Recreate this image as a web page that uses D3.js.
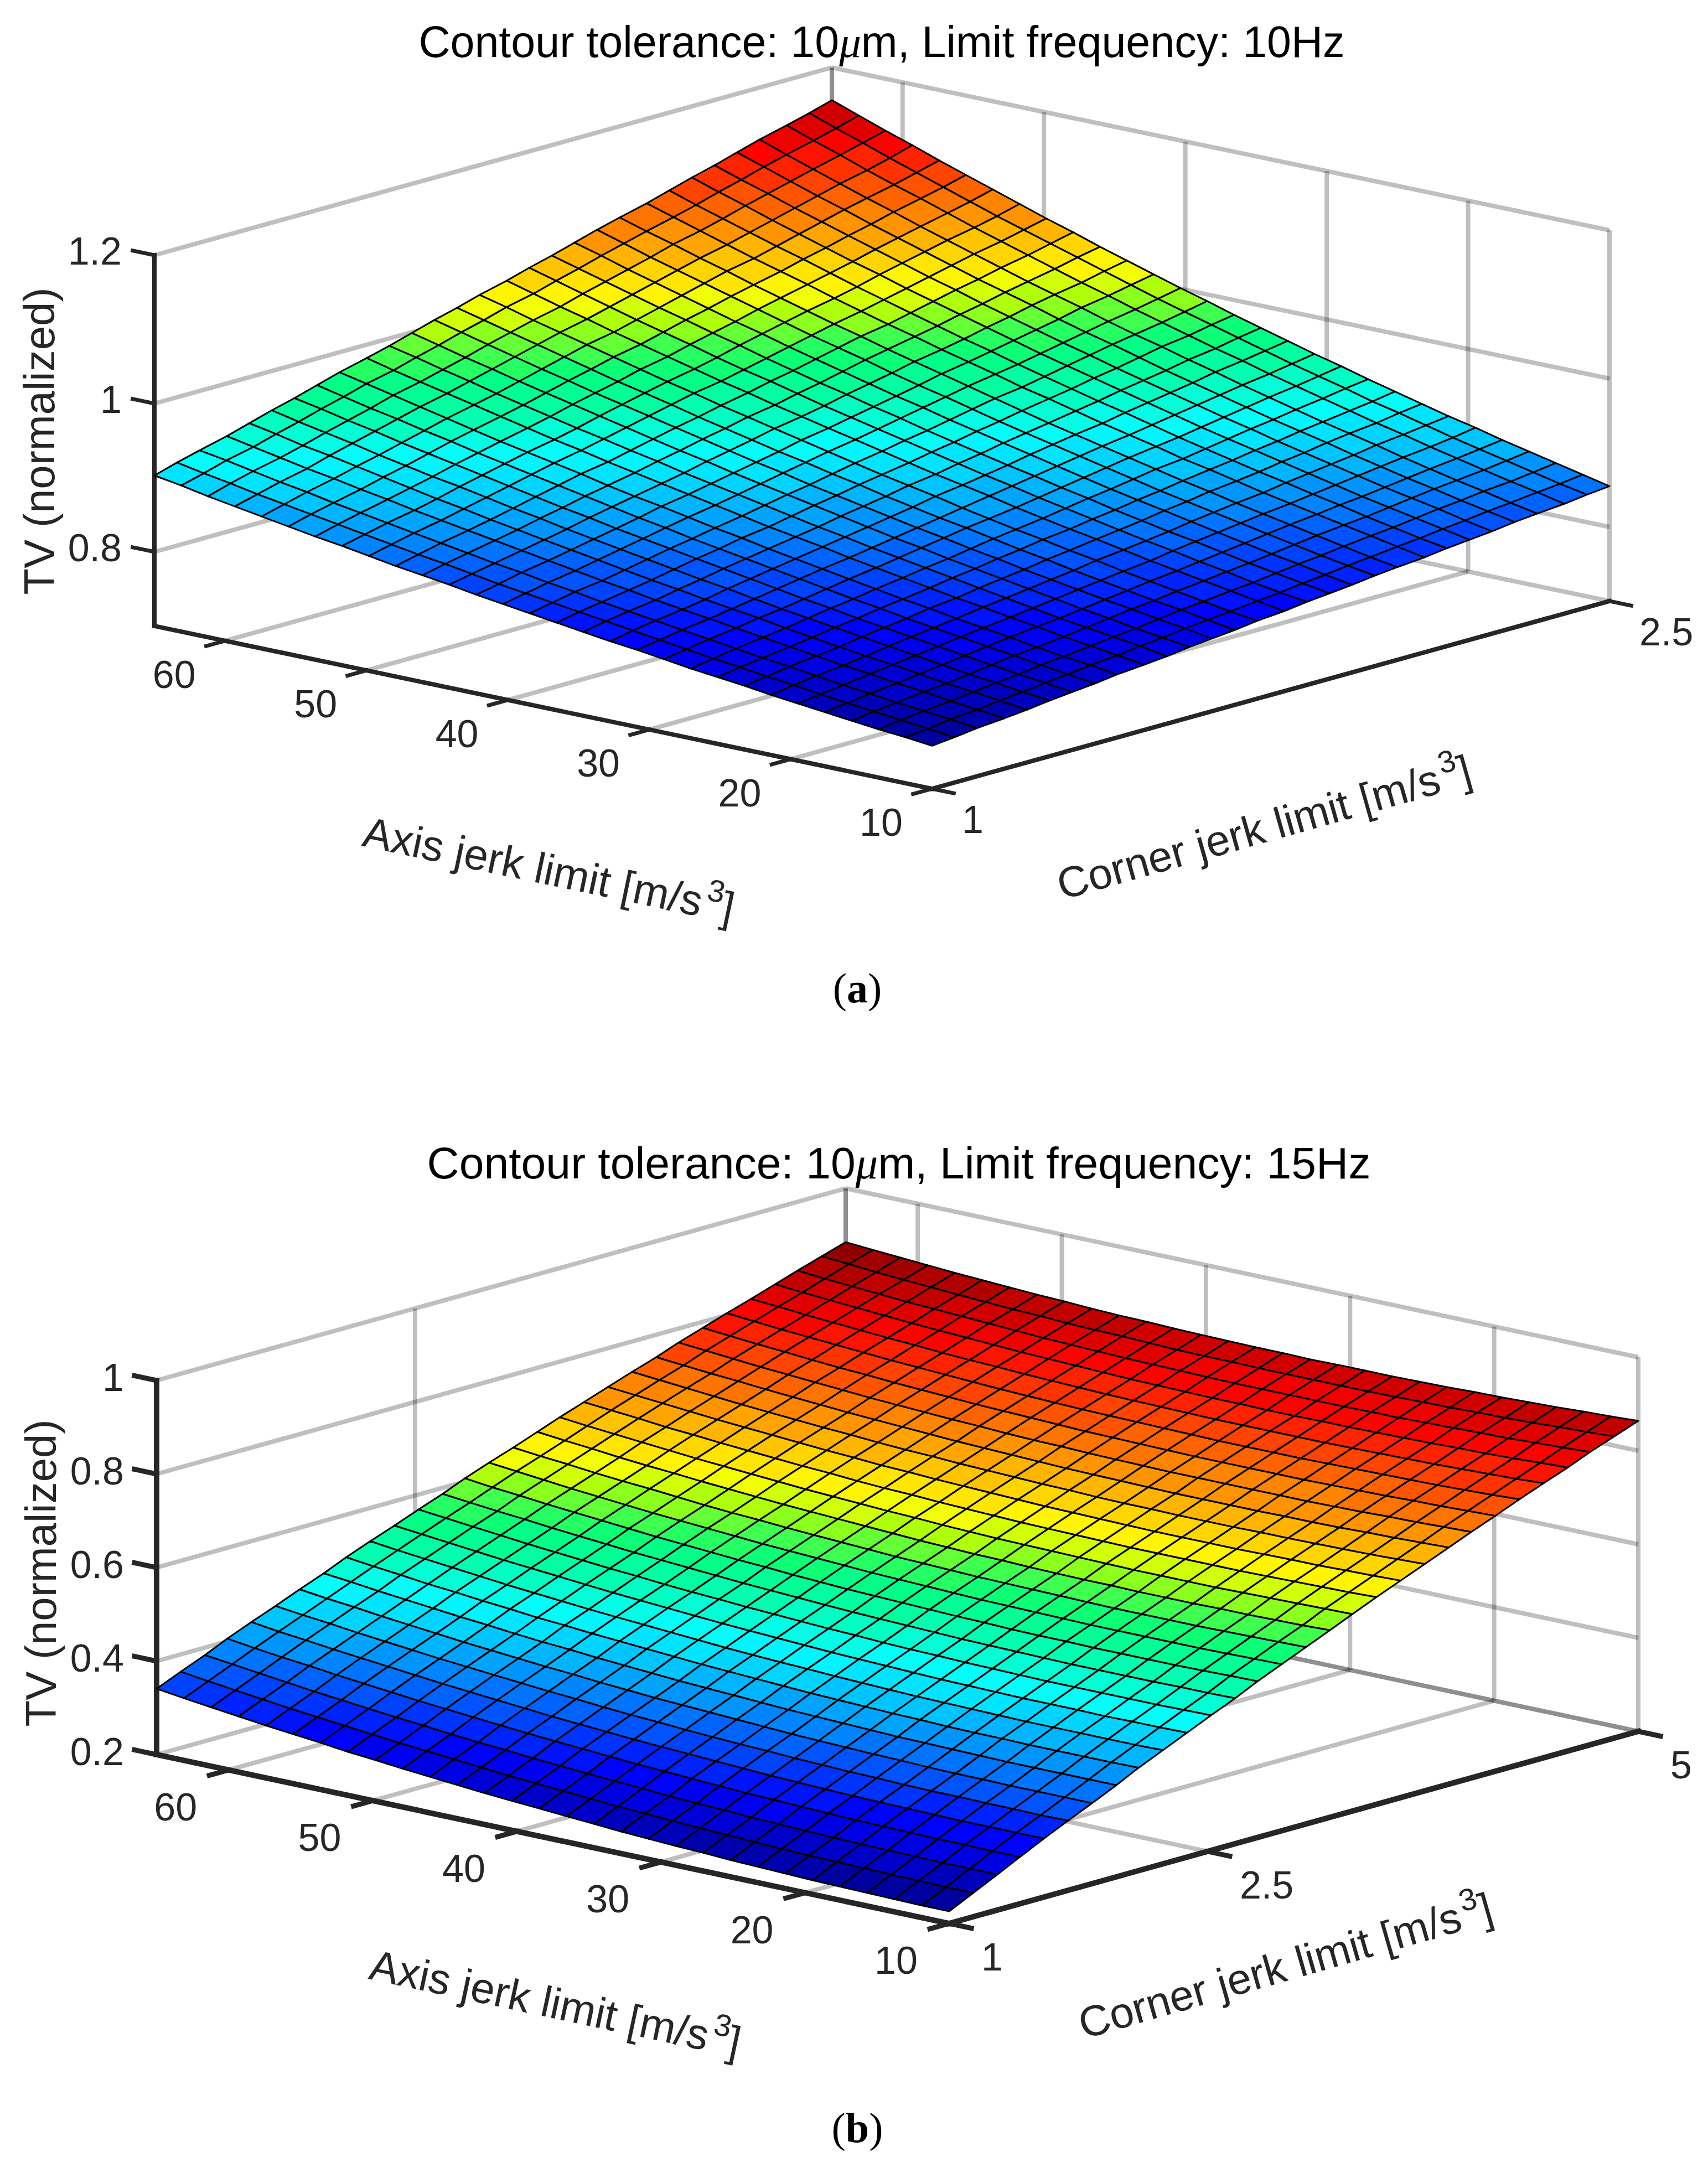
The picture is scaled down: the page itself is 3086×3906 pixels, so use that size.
<!DOCTYPE html>
<html>
<head>
<meta charset="utf-8">
<script src="https://cdn.jsdelivr.net/npm/d3@7"></script>
<style>
  body { margin: 0; background: #fff; }
  text { font-family: "Liberation Sans", Arial, sans-serif; }
</style>
</head>
<body>
<div id="chart"></div>
<script>
// tick labels
const axisTicks = [10, 20, 30, 40, 50, 60];
const cornerTicksA = [1, 2.5];
const cornerTicksB = [1, 2.5, 5];
const zTicksA = [0.8, 1, 1.2];
const zTicksB = [0.2, 0.4, 0.6, 0.8, 1];

// mesh nodes along the two floor axes
const axisNodes = [10, 11.9, 13.79, 15.69, 17.59, 19.48, 21.38, 23.28, 25.17, 27.07, 28.97, 30.86, 32.76, 34.66, 36.55, 38.45, 40.34, 42.24, 44.14, 46.03, 47.93, 49.83, 51.72, 53.62, 55.52, 57.41, 59.31, 61.21, 63.1, 65];
const cornerNodesA = [1, 1.05, 1.1, 1.16, 1.21, 1.26, 1.31, 1.36, 1.41, 1.47, 1.52, 1.57, 1.62, 1.67, 1.72, 1.78, 1.83, 1.88, 1.93, 1.98, 2.03, 2.09, 2.14, 2.19, 2.24, 2.29, 2.34, 2.4, 2.45, 2.5];
const cornerNodesB = [1, 1.14, 1.28, 1.41, 1.55, 1.69, 1.83, 1.97, 2.1, 2.24, 2.38, 2.52, 2.66, 2.79, 2.93, 3.07, 3.21, 3.34, 3.48, 3.62, 3.76, 3.9, 4.03, 4.17, 4.31, 4.45, 4.59, 4.72, 4.86, 5];

// TV values, one row per axis jerk node, one column per corner jerk node
const surfaceA = [
[0.758,0.761,0.765,0.768,0.771,0.775,0.778,0.781,0.785,0.788,0.791,0.795,0.798,0.801,0.805,0.808,0.812,0.815,0.818,0.822,0.825,0.828,0.832,0.835,0.838,0.842,0.845,0.848,0.852,0.855],
[0.762,0.765,0.769,0.772,0.776,0.779,0.783,0.786,0.790,0.793,0.797,0.800,0.804,0.807,0.810,0.814,0.817,0.821,0.824,0.828,0.831,0.835,0.838,0.842,0.845,0.849,0.852,0.856,0.859,0.863],
[0.765,0.769,0.773,0.776,0.780,0.784,0.787,0.791,0.794,0.798,0.802,0.805,0.809,0.813,0.816,0.820,0.823,0.827,0.831,0.834,0.838,0.842,0.845,0.849,0.853,0.856,0.860,0.863,0.867,0.871],
[0.769,0.773,0.777,0.781,0.784,0.788,0.792,0.796,0.799,0.803,0.807,0.811,0.815,0.818,0.822,0.826,0.830,0.833,0.837,0.841,0.845,0.849,0.852,0.856,0.860,0.864,0.867,0.871,0.875,0.879],
[0.773,0.777,0.781,0.785,0.789,0.793,0.797,0.801,0.805,0.809,0.812,0.816,0.820,0.824,0.828,0.832,0.836,0.840,0.844,0.848,0.852,0.856,0.860,0.863,0.867,0.871,0.875,0.879,0.883,0.887],
[0.777,0.781,0.785,0.790,0.794,0.798,0.802,0.806,0.810,0.814,0.818,0.822,0.826,0.830,0.834,0.838,0.843,0.847,0.851,0.855,0.859,0.863,0.867,0.871,0.875,0.879,0.883,0.887,0.891,0.896],
[0.781,0.786,0.790,0.794,0.798,0.803,0.807,0.811,0.815,0.820,0.824,0.828,0.832,0.836,0.841,0.845,0.849,0.853,0.858,0.862,0.866,0.870,0.875,0.879,0.883,0.887,0.892,0.896,0.900,0.904],
[0.786,0.790,0.795,0.799,0.803,0.808,0.812,0.816,0.821,0.825,0.830,0.834,0.838,0.843,0.847,0.852,0.856,0.860,0.865,0.869,0.874,0.878,0.882,0.887,0.891,0.896,0.900,0.904,0.909,0.913],
[0.790,0.795,0.799,0.804,0.808,0.813,0.817,0.822,0.826,0.831,0.836,0.840,0.845,0.849,0.854,0.858,0.863,0.867,0.872,0.876,0.881,0.886,0.890,0.895,0.899,0.904,0.908,0.913,0.917,0.922],
[0.794,0.799,0.804,0.809,0.813,0.818,0.823,0.827,0.832,0.837,0.842,0.846,0.851,0.856,0.860,0.865,0.870,0.875,0.879,0.884,0.889,0.893,0.898,0.903,0.908,0.912,0.917,0.922,0.927,0.931],
[0.799,0.804,0.809,0.814,0.819,0.823,0.828,0.833,0.838,0.843,0.848,0.853,0.858,0.863,0.867,0.872,0.877,0.882,0.887,0.892,0.897,0.902,0.906,0.911,0.916,0.921,0.926,0.931,0.936,0.941],
[0.804,0.809,0.814,0.819,0.824,0.829,0.834,0.839,0.844,0.849,0.854,0.859,0.864,0.869,0.874,0.880,0.885,0.890,0.895,0.900,0.905,0.910,0.915,0.920,0.925,0.930,0.935,0.940,0.945,0.950],
[0.808,0.814,0.819,0.824,0.829,0.835,0.840,0.845,0.850,0.856,0.861,0.866,0.871,0.876,0.882,0.887,0.892,0.897,0.903,0.908,0.913,0.918,0.924,0.929,0.934,0.939,0.945,0.950,0.955,0.960],
[0.813,0.819,0.824,0.829,0.835,0.840,0.846,0.851,0.856,0.862,0.867,0.873,0.878,0.883,0.889,0.894,0.900,0.905,0.911,0.916,0.921,0.927,0.932,0.938,0.943,0.948,0.954,0.959,0.965,0.970],
[0.818,0.824,0.829,0.835,0.840,0.846,0.852,0.857,0.863,0.868,0.874,0.880,0.885,0.891,0.896,0.902,0.908,0.913,0.919,0.924,0.930,0.936,0.941,0.947,0.952,0.958,0.964,0.969,0.975,0.980],
[0.823,0.829,0.835,0.840,0.846,0.852,0.858,0.863,0.869,0.875,0.881,0.887,0.892,0.898,0.904,0.910,0.916,0.921,0.927,0.933,0.939,0.944,0.950,0.956,0.962,0.968,0.973,0.979,0.985,0.991],
[0.828,0.834,0.840,0.846,0.852,0.858,0.864,0.870,0.876,0.882,0.888,0.894,0.900,0.906,0.912,0.918,0.924,0.930,0.936,0.942,0.948,0.954,0.959,0.965,0.971,0.977,0.983,0.989,0.995,1.001],
[0.833,0.839,0.846,0.852,0.858,0.864,0.870,0.876,0.883,0.889,0.895,0.901,0.907,0.913,0.920,0.926,0.932,0.938,0.944,0.950,0.957,0.963,0.969,0.975,0.981,0.987,0.994,1.000,1.006,1.012],
[0.839,0.845,0.851,0.858,0.864,0.870,0.877,0.883,0.889,0.896,0.902,0.909,0.915,0.921,0.928,0.934,0.940,0.947,0.953,0.959,0.966,0.972,0.978,0.985,0.991,0.998,1.004,1.010,1.017,1.023],
[0.844,0.851,0.857,0.864,0.870,0.877,0.883,0.890,0.896,0.903,0.910,0.916,0.923,0.929,0.936,0.942,0.949,0.955,0.962,0.969,0.975,0.982,0.988,0.995,1.001,1.008,1.014,1.021,1.028,1.034],
[0.849,0.856,0.863,0.870,0.876,0.883,0.890,0.897,0.904,0.910,0.917,0.924,0.931,0.937,0.944,0.951,0.958,0.964,0.971,0.978,0.985,0.991,0.998,1.005,1.012,1.018,1.025,1.032,1.039,1.046],
[0.855,0.862,0.869,0.876,0.883,0.890,0.897,0.904,0.911,0.918,0.925,0.932,0.939,0.946,0.953,0.959,0.966,0.973,0.980,0.987,0.994,1.001,1.008,1.015,1.022,1.029,1.036,1.043,1.050,1.057],
[0.861,0.868,0.875,0.882,0.889,0.897,0.904,0.911,0.918,0.925,0.932,0.940,0.947,0.954,0.961,0.968,0.975,0.983,0.990,0.997,1.004,1.011,1.018,1.026,1.033,1.040,1.047,1.054,1.061,1.069],
[0.866,0.874,0.881,0.889,0.896,0.903,0.911,0.918,0.925,0.933,0.940,0.948,0.955,0.962,0.970,0.977,0.985,0.992,0.999,1.007,1.014,1.022,1.029,1.036,1.044,1.051,1.058,1.066,1.073,1.081],
[0.872,0.880,0.887,0.895,0.903,0.910,0.918,0.926,0.933,0.941,0.948,0.956,0.964,0.971,0.979,0.986,0.994,1.002,1.009,1.017,1.024,1.032,1.040,1.047,1.055,1.062,1.070,1.078,1.085,1.093],
[0.878,0.886,0.894,0.902,0.910,0.917,0.925,0.933,0.941,0.949,0.956,0.964,0.972,0.980,0.988,0.995,1.003,1.011,1.019,1.027,1.035,1.042,1.050,1.058,1.066,1.074,1.081,1.089,1.097,1.105],
[0.884,0.892,0.900,0.908,0.917,0.925,0.933,0.941,0.949,0.957,0.965,0.973,0.981,0.989,0.997,1.005,1.013,1.021,1.029,1.037,1.045,1.053,1.061,1.069,1.077,1.085,1.093,1.101,1.109,1.118],
[0.890,0.899,0.907,0.915,0.923,0.932,0.940,0.948,0.957,0.965,0.973,0.981,0.990,0.998,1.006,1.014,1.023,1.031,1.039,1.047,1.056,1.064,1.072,1.081,1.089,1.097,1.105,1.114,1.122,1.130],
[0.897,0.905,0.914,0.922,0.931,0.939,0.948,0.956,0.965,0.973,0.982,0.990,0.999,1.007,1.016,1.024,1.033,1.041,1.050,1.058,1.066,1.075,1.083,1.092,1.100,1.109,1.117,1.126,1.134,1.143],
[0.903,0.912,0.920,0.929,0.938,0.947,0.955,0.964,0.973,0.982,0.990,0.999,1.008,1.016,1.025,1.034,1.043,1.051,1.060,1.069,1.077,1.086,1.095,1.104,1.112,1.121,1.130,1.139,1.147,1.156]
];

const surfaceB = [
[0.226,0.251,0.276,0.300,0.325,0.349,0.372,0.396,0.420,0.443,0.466,0.489,0.511,0.534,0.556,0.578,0.600,0.621,0.643,0.664,0.685,0.706,0.726,0.746,0.767,0.787,0.806,0.826,0.845,0.864],
[0.226,0.251,0.276,0.300,0.325,0.348,0.372,0.396,0.419,0.442,0.465,0.488,0.510,0.533,0.555,0.577,0.598,0.620,0.641,0.662,0.683,0.704,0.724,0.744,0.764,0.784,0.804,0.823,0.842,0.861],
[0.227,0.252,0.276,0.301,0.325,0.349,0.372,0.396,0.419,0.442,0.465,0.487,0.510,0.532,0.554,0.576,0.597,0.619,0.640,0.661,0.681,0.702,0.722,0.742,0.762,0.782,0.801,0.821,0.840,0.859],
[0.228,0.253,0.277,0.301,0.325,0.349,0.372,0.396,0.419,0.442,0.464,0.487,0.509,0.531,0.553,0.575,0.596,0.618,0.639,0.659,0.680,0.701,0.721,0.741,0.760,0.780,0.799,0.818,0.837,0.856],
[0.229,0.254,0.278,0.302,0.326,0.350,0.373,0.396,0.419,0.442,0.465,0.487,0.509,0.531,0.553,0.574,0.596,0.617,0.638,0.659,0.679,0.699,0.719,0.739,0.759,0.778,0.798,0.817,0.835,0.854],
[0.230,0.255,0.279,0.303,0.327,0.350,0.373,0.397,0.420,0.442,0.465,0.487,0.509,0.531,0.553,0.574,0.595,0.616,0.637,0.658,0.678,0.698,0.718,0.738,0.758,0.777,0.796,0.815,0.834,0.852],
[0.232,0.256,0.280,0.304,0.328,0.351,0.374,0.398,0.420,0.443,0.465,0.487,0.509,0.531,0.553,0.574,0.595,0.616,0.637,0.657,0.678,0.698,0.717,0.737,0.757,0.776,0.795,0.814,0.832,0.851],
[0.234,0.258,0.282,0.306,0.329,0.353,0.376,0.399,0.421,0.444,0.466,0.488,0.510,0.532,0.553,0.574,0.595,0.616,0.637,0.657,0.677,0.697,0.717,0.736,0.756,0.775,0.794,0.812,0.831,0.849],
[0.236,0.260,0.284,0.308,0.331,0.354,0.377,0.400,0.423,0.445,0.467,0.489,0.511,0.532,0.554,0.575,0.596,0.616,0.637,0.657,0.677,0.697,0.717,0.736,0.755,0.774,0.793,0.812,0.830,0.848],
[0.239,0.263,0.286,0.310,0.333,0.356,0.379,0.402,0.424,0.446,0.468,0.490,0.512,0.533,0.555,0.576,0.596,0.617,0.637,0.657,0.677,0.697,0.717,0.736,0.755,0.774,0.793,0.811,0.829,0.847],
[0.241,0.265,0.289,0.312,0.335,0.358,0.381,0.404,0.426,0.448,0.470,0.492,0.513,0.535,0.556,0.577,0.597,0.618,0.638,0.658,0.678,0.697,0.717,0.736,0.755,0.774,0.792,0.811,0.829,0.847],
[0.244,0.268,0.291,0.315,0.338,0.361,0.383,0.406,0.428,0.450,0.472,0.493,0.515,0.536,0.557,0.578,0.598,0.619,0.639,0.659,0.678,0.698,0.717,0.736,0.755,0.774,0.792,0.811,0.829,0.847],
[0.247,0.271,0.294,0.318,0.341,0.363,0.386,0.408,0.430,0.452,0.474,0.495,0.517,0.538,0.559,0.579,0.600,0.620,0.640,0.660,0.679,0.699,0.718,0.737,0.756,0.774,0.793,0.811,0.829,0.846],
[0.251,0.274,0.298,0.321,0.344,0.366,0.389,0.411,0.433,0.455,0.476,0.498,0.519,0.540,0.561,0.581,0.601,0.621,0.641,0.661,0.681,0.700,0.719,0.738,0.757,0.775,0.793,0.811,0.829,0.847],
[0.255,0.278,0.301,0.324,0.347,0.369,0.392,0.414,0.436,0.457,0.479,0.500,0.521,0.542,0.563,0.583,0.603,0.623,0.643,0.663,0.682,0.701,0.720,0.739,0.758,0.776,0.794,0.812,0.830,0.847],
[0.259,0.282,0.305,0.328,0.350,0.373,0.395,0.417,0.439,0.460,0.482,0.503,0.524,0.544,0.565,0.585,0.605,0.625,0.645,0.665,0.684,0.703,0.722,0.740,0.759,0.777,0.795,0.813,0.830,0.848],
[0.263,0.286,0.309,0.332,0.354,0.376,0.398,0.420,0.442,0.463,0.485,0.506,0.527,0.547,0.568,0.588,0.608,0.628,0.647,0.667,0.686,0.705,0.723,0.742,0.760,0.778,0.796,0.814,0.831,0.849],
[0.267,0.290,0.313,0.336,0.358,0.380,0.402,0.424,0.446,0.467,0.488,0.509,0.530,0.550,0.571,0.591,0.611,0.630,0.650,0.669,0.688,0.707,0.725,0.744,0.762,0.780,0.798,0.815,0.833,0.850],
[0.272,0.295,0.318,0.340,0.362,0.385,0.406,0.428,0.450,0.471,0.492,0.513,0.533,0.554,0.574,0.594,0.614,0.633,0.652,0.672,0.691,0.709,0.728,0.746,0.764,0.782,0.800,0.817,0.835,0.852],
[0.277,0.300,0.322,0.345,0.367,0.389,0.411,0.432,0.454,0.475,0.496,0.516,0.537,0.557,0.577,0.597,0.617,0.636,0.655,0.674,0.693,0.712,0.730,0.748,0.766,0.784,0.802,0.819,0.836,0.853],
[0.282,0.305,0.327,0.350,0.372,0.394,0.415,0.437,0.458,0.479,0.500,0.520,0.541,0.561,0.581,0.601,0.620,0.639,0.659,0.678,0.696,0.715,0.733,0.751,0.769,0.787,0.804,0.821,0.838,0.855],
[0.288,0.310,0.333,0.355,0.377,0.399,0.420,0.441,0.463,0.483,0.504,0.525,0.545,0.565,0.585,0.604,0.624,0.643,0.662,0.681,0.700,0.718,0.736,0.754,0.772,0.789,0.807,0.824,0.841,0.858],
[0.293,0.316,0.338,0.360,0.382,0.404,0.425,0.446,0.467,0.488,0.509,0.529,0.549,0.569,0.589,0.608,0.628,0.647,0.666,0.685,0.703,0.721,0.739,0.757,0.775,0.792,0.810,0.827,0.843,0.860],
[0.300,0.322,0.344,0.366,0.388,0.409,0.430,0.452,0.473,0.493,0.514,0.534,0.554,0.574,0.593,0.613,0.632,0.651,0.670,0.689,0.707,0.725,0.743,0.761,0.778,0.796,0.813,0.830,0.846,0.863],
[0.306,0.328,0.350,0.372,0.394,0.415,0.436,0.457,0.478,0.498,0.519,0.539,0.559,0.579,0.598,0.618,0.637,0.655,0.674,0.693,0.711,0.729,0.747,0.764,0.782,0.799,0.816,0.833,0.849,0.866],
[0.312,0.334,0.356,0.378,0.400,0.421,0.442,0.463,0.484,0.504,0.524,0.544,0.564,0.584,0.603,0.622,0.641,0.660,0.679,0.697,0.715,0.733,0.751,0.768,0.786,0.803,0.820,0.836,0.853,0.869],
[0.319,0.341,0.363,0.385,0.406,0.427,0.448,0.469,0.489,0.510,0.530,0.550,0.570,0.589,0.608,0.627,0.646,0.665,0.683,0.702,0.720,0.738,0.755,0.773,0.790,0.807,0.824,0.840,0.856,0.873],
[0.326,0.348,0.370,0.391,0.413,0.434,0.455,0.475,0.496,0.516,0.536,0.556,0.575,0.595,0.614,0.633,0.652,0.670,0.689,0.707,0.725,0.742,0.760,0.777,0.794,0.811,0.828,0.844,0.860,0.877],
[0.333,0.355,0.377,0.398,0.419,0.440,0.461,0.482,0.502,0.522,0.542,0.562,0.581,0.600,0.620,0.638,0.657,0.675,0.694,0.712,0.730,0.747,0.765,0.782,0.799,0.816,0.832,0.848,0.865,0.881],
[0.341,0.363,0.384,0.406,0.427,0.447,0.468,0.488,0.509,0.529,0.548,0.568,0.587,0.607,0.626,0.644,0.663,0.681,0.699,0.717,0.735,0.752,0.770,0.787,0.804,0.820,0.837,0.853,0.869,0.885]
];

const panels = [
  {
    title: ["Contour tolerance: 10", "m, Limit frequency: 10Hz"], titleX: 1593, titleY: 103, titleSize: 79,
    caption: "a", captionY: 1811,
    surface: surfaceA, cornerNodes: cornerNodesA, cornerTicks: cornerTicksA, zTicks: zTicksA,
    cornerDomain: [1, 2.5], zDomain: [0.7, 1.2], colorDomain: [0.758, 1.19],
    front: [1684, 1425], left: [279, 1131], right: [2908, 1086], zPixels: 670,
    axisWidth: 8,
    zLabelX: 220, zLabelDy: 17, axisLabelOffset: [-92, 85], cornerLabelOffset: [54, 80],
    tvX: 98, tvY: 797,
    axisTitle: [652, 1528, 11.8], cornerTitle: [1919, 1626, -15.8]
  },
  {
    title: ["Contour tolerance: 10", "m, Limit frequency: 15Hz"], titleX: 1624, titleY: 2129, titleSize: 80.5,
    caption: "b", captionY: 3870,
    surface: surfaceB, cornerNodes: cornerNodesB, cornerTicks: cornerTicksB, zTicks: zTicksB,
    cornerDomain: [1, 5], zDomain: [0.2, 1], colorDomain: [0.235, 0.905],
    front: [1715, 3475], left: [283, 3170], right: [2960, 3128], zPixels: 676,
    axisWidth: 10,
    zLabelX: 224, zLabelDy: 19, axisLabelOffset: [-96, 91], cornerLabelOffset: [58, 85],
    tvX: 101, tvY: 2842,
    axisTitle: [664, 3575, 12], cornerTitle: [1958, 3684, -16]
  }
];

const svg = d3.select("#chart").append("svg")
  .attr("width", 3086)
  .attr("height", 3906)
  .attr("viewBox", [0, 0, 3086, 3906]);

// jet as the picture shows it (greens are more saturated than plain MATLAB jet), 64 steps
const jetLine = d3.scaleLinear()
  .domain([0, 0.125, 0.375, 0.45, 0.5, 0.54, 0.58, 0.625, 0.875, 1])
  .range(["#000090", "#0000ff", "#00ffff", "#00ffaa", "#00ff80", "#40ff50", "#a0ff10", "#ffff00", "#ff0000", "#800000"]);
const jetColors = d3.range(64).map((k) => jetLine(k / 63));

function drawPanel(p) {
  const g = svg.append("g");
  const axisMax = axisNodes[axisNodes.length - 1];

  const axisPos = d3.scaleLinear().domain([axisNodes[0], axisMax]).range([0, 1]);
  const cornerPos = d3.scaleLinear().domain(p.cornerDomain).range([0, 1]);
  const zPos = d3.scaleLinear().domain(p.zDomain).range([0, p.zPixels]);
  const color = d3.scaleQuantize().domain(p.colorDomain).range(jetColors);

  // fixed viewing angle: floor is a parallelogram from the front corner
  function project(a, c, z) {
    const u = axisPos(a);
    const v = cornerPos(c);
    return [
      p.front[0] + u * (p.left[0] - p.front[0]) + v * (p.right[0] - p.front[0]),
      p.front[1] + u * (p.left[1] - p.front[1]) + v * (p.right[1] - p.front[1]) - zPos(z)
    ];
  }

  const cMin = p.cornerDomain[0];
  const cMax = p.cornerDomain[1];
  const zMin = p.zDomain[0];
  const zMax = p.zDomain[1];

  // grid on the two back walls and on the floor
  const grid = [];
  p.zTicks.forEach((z) => {
    grid.push([project(axisMax, cMin, z), project(axisMax, cMax, z)]);
    grid.push([project(axisMax, cMax, z), project(10, cMax, z)]);
  });
  axisTicks.forEach((a) => {
    grid.push([project(a, cMax, zMin), project(a, cMax, zMax)]);
    if (a > 10) grid.push([project(a, cMin, zMin), project(a, cMax, zMin)]);
  });
  p.cornerTicks.forEach((c) => {
    if (c > cMin) {
      grid.push([project(10, c, zMin), project(axisMax, c, zMin)]);
      grid.push([project(axisMax, c, zMin), project(axisMax, c, zMax)]);
    }
  });
  grid.push([project(axisMax, cMax, zMin), project(axisMax, cMax, zMax)]);

  g.append("g").selectAll("line").data(grid).join("line")
    .attr("x1", (d) => d[0][0]).attr("y1", (d) => d[0][1])
    .attr("x2", (d) => d[1][0]).attr("y2", (d) => d[1][1])
    .attr("stroke", "#000").attr("stroke-opacity", 0.25).attr("stroke-width", 8);

  // dark axis lines and ticks
  const axes = [
    [project(10, cMin, zMin), project(axisMax, cMin, zMin)],
    [project(10, cMin, zMin), project(10, cMax, zMin)],
    [project(axisMax, cMin, zMin), project(axisMax, cMin, zMax)]
  ];
  const cornerTickLen = (cMax - cMin) * 0.028;
  const axisTickLen = 55 * 0.028;
  axisTicks.forEach((a) => axes.push([project(a, cMin, zMin), project(a, cMin - cornerTickLen, zMin)]));
  p.cornerTicks.forEach((c) => axes.push([project(10, c, zMin), project(10 - axisTickLen, c, zMin)]));
  p.zTicks.forEach((z) => axes.push([project(axisMax, cMin, z), project(axisMax + axisTickLen, cMin, z)]));

  g.append("g").selectAll("line").data(axes).join("line")
    .attr("x1", (d) => d[0][0]).attr("y1", (d) => d[0][1])
    .attr("x2", (d) => d[1][0]).attr("y2", (d) => d[1][1])
    .attr("stroke", "#262626").attr("stroke-width", (d, i) => (i < 3 ? p.axisWidth : p.axisWidth - 1))
    .attr("stroke-linecap", "square");

  // surface cells, far corner first; each cell takes the colour of its far vertex
  const cells = [];
  for (let i = p.surface.length - 2; i >= 0; i--) {
    for (let j = p.cornerNodes.length - 2; j >= 0; j--) {
      cells.push({ i, j, value: p.surface[i + 1][j + 1] });
    }
  }
  const pathOf = (d) => {
    const s = p.surface;
    const pts = [
      project(axisNodes[d.i], p.cornerNodes[d.j], s[d.i][d.j]),
      project(axisNodes[d.i + 1], p.cornerNodes[d.j], s[d.i + 1][d.j]),
      project(axisNodes[d.i + 1], p.cornerNodes[d.j + 1], s[d.i + 1][d.j + 1]),
      project(axisNodes[d.i], p.cornerNodes[d.j + 1], s[d.i][d.j + 1])
    ];
    return d3.line()(pts) + "Z";
  };
  g.append("g").selectAll("path").data(cells).join("path")
    .attr("d", pathOf)
    .attr("fill", (d) => color(d.value))
    .attr("stroke", "#000")
    .attr("stroke-width", 3)
    .attr("stroke-linejoin", "round");

  // tick labels
  const labels = g.append("g").attr("font-size", 70).attr("fill", "#262626");
  labels.selectAll(".zl").data(p.zTicks).join("text").attr("class", "zl")
    .attr("x", p.zLabelX)
    .attr("y", (z) => project(axisMax, cMin, z)[1] + p.zLabelDy)
    .attr("text-anchor", "end")
    .text((z) => z);
  labels.selectAll(".al").data(axisTicks).join("text").attr("class", "al")
    .attr("x", (a) => project(a, cMin, zMin)[0] + p.axisLabelOffset[0])
    .attr("y", (a) => project(a, cMin, zMin)[1] + p.axisLabelOffset[1])
    .attr("text-anchor", "middle")
    .text((a) => a);
  labels.selectAll(".cl").data(p.cornerTicks).join("text").attr("class", "cl")
    .attr("x", (c) => project(10, c, zMin)[0] + p.cornerLabelOffset[0])
    .attr("y", (c) => project(10, c, zMin)[1] + p.cornerLabelOffset[1])
    .text((c) => c);

  // title with the italic mu
  const title = g.append("text")
    .attr("x", p.titleX).attr("y", p.titleY)
    .attr("text-anchor", "middle").attr("font-size", p.titleSize).attr("fill", "#000");
  title.append("tspan").text(p.title[0]);
  title.append("tspan").style("font-family", "'Liberation Serif'").attr("font-style", "italic").text("\u03bc");
  title.append("tspan").text(p.title[1]);

  // axis titles
  g.append("text")
    .attr("transform", `translate(${p.tvX},${p.tvY}) rotate(-90)`)
    .attr("text-anchor", "middle").attr("font-size", 78).attr("fill", "#262626")
    .text("TV (normalized)");

  function slantedTitle(pos, words) {
    const t = g.append("text")
      .attr("transform", `translate(${pos[0]},${pos[1]}) rotate(${pos[2]})`)
      .attr("font-size", 78).attr("fill", "#262626");
    t.append("tspan").text(words);
    t.append("tspan").attr("dy", -32).attr("dx", 6).attr("font-size", 56).text("3");
    t.append("tspan").attr("dy", 32).text("]");
  }
  slantedTitle(p.axisTitle, "Axis jerk limit [m/s");
  slantedTitle(p.cornerTitle, "Corner jerk limit [m/s");

  // panel letter
  const cap = g.append("text")
    .attr("x", 1549).attr("y", p.captionY)
    .attr("text-anchor", "middle").attr("font-size", 76).attr("fill", "#000")
    .style("font-family", "'Liberation Serif'");
  cap.append("tspan").text("(");
  cap.append("tspan").attr("font-weight", "bold").text(p.caption);
  cap.append("tspan").text(")");
}

panels.forEach(drawPanel);
</script>
</body>
</html>
